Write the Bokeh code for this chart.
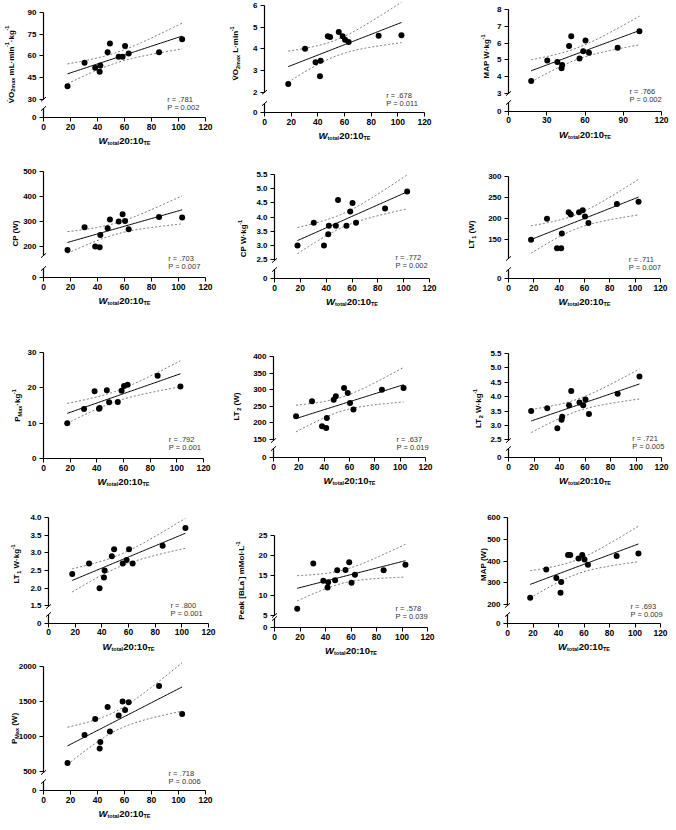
import numpy as np
from math import pi
from bokeh.plotting import figure
from bokeh.models import Label, FixedTicker, Range1d, LinearAxis
from bokeh.layouts import column, row
from bokeh.embed import file_html
from bokeh.resources import INLINE

FONT = "Liberation Sans"

# ---- data: one value per participant, ordered by total work ----
w_total = [17.8, 30.4, 38.3, 41.6, 42.1, 47.5, 49.2, 55.7, 58.6, 60.4, 63.1, 85.6, 102.7]

vo2max_rel = [38.9, 55.2, 51.8, 49.0, 53.4, 62.5, 68.5, 59.3, 59.3, 66.9, 61.6, 62.5, 71.5]
vo2max_abs = [2.38, 4.00, 3.38, 2.74, 3.45, 4.58, 4.55, 4.78, 4.58, 4.42, 4.32, 4.60, 4.63]
map_rel = [3.75, 4.96, 4.87, 4.50, 4.70, 5.82, 6.41, 5.08, 5.52, 6.15, 5.42, 5.72, 6.71]
cp_abs = [185, 276, 199, 196, 245, 272, 307, 299, 328, 301, 268, 317, 315]
cp_rel = [3.0, 3.8, 3.0, 3.4, 3.7, 3.7, 4.6, 3.7, 4.2, 4.5, 3.8, 4.3, 4.9]
lt1_abs = [150, 200, 130, 130, 165, 215, 210, 215, 220, 205, 190, 235, 240]
pmax_rel = [10.0, 14.0, 19.0, 14.1, 14.3, 19.3, 15.9, 16.0, 19.2, 20.5, 20.9, 23.4, 20.4]
lt2_abs = [220, 265, 190, 185, 215, 270, 280, 305, 290, 260, 240, 300, 305]
lt2_rel = [3.5, 3.6, 2.9, 3.2, 3.3, 3.7, 4.2, 3.8, 3.7, 3.9, 3.4, 4.1, 4.7]
lt1_rel = [2.4, 2.7, 2.0, 2.3, 2.5, 2.9, 3.1, 2.7, 2.8, 3.1, 2.7, 3.2, 3.7]
peak_bla = [6.7, 18.0, 13.7, 12.0, 13.3, 13.8, 16.3, 16.4, 18.3, 13.2, 15.2, 16.3, 17.7]
map_abs = [232, 362, 323, 255, 304, 428, 428, 412, 428, 408, 384, 424, 435]
pmax_abs = [620, 1020, 1250, 830, 920, 1420, 1070, 1300, 1500, 1380, 1490, 1720, 1320]

# ---- correlation statistics ----
r_text = [".781", ".678", ".766", ".703", ".772", ".711", ".792", ".637", ".721",
          ".800", ".578", ".693", ".718"]
p_text = ["0.002", "0.011", "0.002", "0.007", "0.002", "0.007", "0.001", "0.019", "0.005",
          "0.001", "0.039", "0.009", "0.006"]

# ---- tick values ----
x_ticks_20 = [0, 20, 40, 60, 80, 100, 120]
x_ticks_30 = [0, 30, 60, 90, 120]
vo2max_rel_ticks = [30, 45, 60, 75, 90]
vo2max_abs_ticks = [2, 3, 4, 5, 6]
map_rel_ticks = [3, 4, 5, 6, 7, 8]
cp_abs_ticks = [200, 300, 400, 500]
cp_rel_ticks = [2.5, 3.0, 3.5, 4.0, 4.5, 5.0, 5.5]
lt1_abs_ticks = [150, 200, 250, 300]
pmax_rel_ticks = [0, 10, 20, 30]
lt2_abs_ticks = [150, 200, 250, 300, 350, 400]
lt2_rel_ticks = [2.5, 3.0, 3.5, 4.0, 4.5, 5.0, 5.5]
lt1_rel_ticks = [1.5, 2.0, 2.5, 3.0, 3.5, 4.0]
peak_bla_ticks = [5, 10, 15, 20, 25]
map_abs_ticks = [200, 300, 400, 500, 600]
pmax_abs_ticks = [500, 1000, 1500, 2000]

# advance widths of Arial/Liberation Sans Bold (per 1000 em)
BOLD_W = {" ": 278, "(": 333, ")": 333, "-": 333, ".": 278, ":": 333, "[": 333, "]": 333,
          "\u00b7": 278, "\u0307": 0,
          "A": 722, "B": 722, "C": 722, "E": 667, "L": 611, "M": 833, "O": 778, "P": 667,
          "T": 611, "V": 667, "W": 944,
          "a": 556, "e": 556, "g": 611, "i": 278, "k": 556, "l": 278, "m": 889, "n": 611,
          "o": 611, "t": 333, "x": 556}


def text_width(s, size):
    return sum(BOLD_W.get(c, 556) for c in s) * size / 1000.0


MAIN, SUB = 8, 5.5


def ylab(*parts):
    out = []
    for kind, txt in parts:
        if kind == "n":
            out.append((txt, MAIN, 0, "bold"))
        elif kind == "sub":
            out.append((txt, SUB, 2.2, "bold"))
        else:
            out.append((txt, SUB, -3.6, "bold"))
    return out


VO = "V\u0307O"
panels = [
    dict(y=vo2max_rel, ticks=vo2max_rel_ticks, fmt="{:.0f}", xt=x_ticks_20, col=0, row=0,
         L=43, R=205, T=12, B=117, low=98.7, seg=98.7, brk=True, tx=10.5, ty=64,
         rxy=(166.7, 99),
         title=ylab(("n", VO), ("sub", "2max"), ("n", " mL\u00b7min"), ("sup", "-1"),
                    ("n", "\u00b7kg"), ("sup", "-1"))),
    dict(y=vo2max_abs, ticks=vo2max_abs_ticks, fmt="{:.0f}", xt=x_ticks_20, col=1, row=0,
         L=264, R=424, T=5, B=112, low=91.7, seg=91.7, brk=True, tx=235.3, ty=53,
         rxy=(385.7, 95),
         title=ylab(("n", VO), ("sub", "2max"), ("n", " L\u00b7min"), ("sup", "-1"))),
    dict(y=map_rel, ticks=map_rel_ticks, fmt="{:.0f}", xt=x_ticks_30, col=2, row=0,
         L=508, R=661, T=9, B=111, low=93, seg=93, brk=True, tx=486.3, ty=56,
         rxy=(629, 90.7),
         title=ylab(("n", "MAP W\u00b7kg"), ("sup", "-1"))),
    dict(y=cp_abs, ticks=cp_abs_ticks, fmt="{:.0f}", xt=x_ticks_20, col=0, row=1,
         L=43, R=205, T=171, B=277, low=245.7, seg=255, brk=True, tx=15.3, ty=233,
         rxy=(167.7, 258.3),
         title=ylab(("n", "CP (W)"))),
    dict(y=cp_rel, ticks=cp_rel_ticks, fmt="{:.1f}", xt=x_ticks_20, col=1, row=1,
         L=274, R=429, T=174, B=278, low=259.3, seg=260, brk=True, tx=243, ty=238,
         rxy=(395, 256.7),
         title=ylab(("n", "CP W\u00b7kg"), ("sup", "-1"))),
    dict(y=lt1_abs, ticks=lt1_abs_ticks, fmt="{:.0f}", xt=x_ticks_20, col=2, row=1,
         L=508, R=660, T=176, B=278, low=239.3, seg=258, brk=True, tx=471.3, ty=234,
         rxy=(628.3, 259),
         title=ylab(("n", "LT"), ("sub", "1"), ("n", " (W)"))),
    dict(y=pmax_rel, ticks=pmax_rel_ticks, fmt="{:.0f}", xt=x_ticks_20, col=0, row=2,
         L=43, R=203, T=352, B=458, low=None, seg=None, brk=False, tx=17, ty=405,
         rxy=(168.3, 439),
         title=ylab(("n", "P"), ("sub", "Max"), ("n", "\u00b7kg"), ("sup", "-1"))),
    dict(y=lt2_abs, ticks=lt2_abs_ticks, fmt="{:.0f}", xt=x_ticks_20, col=1, row=2,
         L=273, R=425, T=356, B=457, low=439, seg=440, brk=True, tx=236.3, ty=406,
         rxy=(396, 439),
         title=ylab(("n", "LT"), ("sub", "2"), ("n", " (W)"))),
    dict(y=lt2_rel, ticks=lt2_rel_ticks, fmt="{:.1f}", xt=x_ticks_20, col=2, row=2,
         L=508, R=661, T=353, B=457, low=439.3, seg=440, brk=True, tx=478, ty=408,
         rxy=(631.7, 438.3),
         title=ylab(("n", "LT"), ("sub", "2"), ("n", " W\u00b7kg"), ("sup", "-1"))),
    dict(y=lt1_rel, ticks=lt1_rel_ticks, fmt="{:.1f}", xt=x_ticks_20, col=0, row=3,
         L=48, R=208, T=517, B=623, low=605.3, seg=606, brk=True, tx=16.3, ty=563.5,
         rxy=(170, 605.3),
         title=ylab(("n", "LT"), ("sub", "1"), ("n", " W\u00b7kg"), ("sup", "-1"))),
    dict(y=peak_bla, ticks=peak_bla_ticks, fmt="{:.0f}", xt=x_ticks_20, col=1, row=3,
         L=274, R=427, T=535, B=627, low=615, seg=615, brk=True, tx=241.3, ty=580,
         rxy=(395, 608),
         title=ylab(("n", "Peak [BLa"), ("sup", "-"), ("n", "] mMol\u00b7L"), ("sup", "-1"))),
    dict(y=map_abs, ticks=map_abs_ticks, fmt="{:.0f}", xt=x_ticks_20, col=2, row=3,
         L=507, R=660, T=517, B=623, low=604.3, seg=605, brk=True, tx=482.5, ty=564,
         rxy=(630, 605.7),
         title=ylab(("n", "MAP (W)"))),
    dict(y=pmax_abs, ticks=pmax_abs_ticks, fmt="{:.0f}", xt=x_ticks_20, col=0, row=4,
         L=43, R=205, T=666, B=790, low=771, seg=772, brk=True, tx=14, ty=728,
         rxy=(168, 773),
         title=ylab(("n", "P"), ("sub", "Max"), ("n", " (W)"))),
]

COLS = [(0, 225), (225, 450), (450, 676)]
ROWS = [(0, 150), (150, 310), (310, 495), (495, 655), (655, 830)]
T_CRIT = 2.201  # two-sided 95 %, 11 degrees of freedom


def regression_bands(x, y, n_pts=80):
    x = np.asarray(x, float)
    y = np.asarray(y, float)
    n = len(x)
    slope, icpt = np.polyfit(x, y, 1)
    xs = np.linspace(x.min(), x.max(), n_pts)
    fit = icpt + slope * xs
    resid = y - (icpt + slope * x)
    s = np.sqrt((resid ** 2).sum() / (n - 2))
    sxx = ((x - x.mean()) ** 2).sum()
    se = s * np.sqrt(1.0 / n + (xs - x.mean()) ** 2 / sxx)
    return xs, fit, fit - T_CRIT * se, fit + T_CRIT * se


def style_axis(ax, size):
    ax.axis_line_width = 1.2
    ax.axis_line_color = "black"
    ax.major_tick_out = 4
    ax.major_tick_in = 0
    ax.major_tick_line_width = 1
    ax.minor_tick_line_color = None
    ax.major_label_text_font = FONT
    ax.major_label_text_font_style = "bold"
    ax.major_label_text_font_size = size
    ax.major_label_text_color = "black"


def rich_text(p, parts, x0, y0, tx, ty, rotated):
    """Lay out styled text runs one after another, starting at page point (x0, y0)."""
    pos = 0.0
    for t, s, sh, st in parts:
        lead = len(t) - len(t.lstrip(" "))
        pos += text_width(t[:lead], s)      # leading blanks become an explicit advance
        t = t.lstrip(" ")
        if rotated:
            X, Y, ang = x0 + sh, y0 - pos, pi / 2
        else:
            X, Y, ang = x0 + pos, y0 + sh, 0
        p.add_layout(Label(x=tx(X), y=ty(Y), text=t, angle=ang, text_align="left",
                           text_baseline="alphabetic", text_font=FONT,
                           text_font_size=f"{s}px", text_font_style=st, text_color="black"))
        pos += text_width(t, s)


def make_panel(i, sp):
    cx0, cx1 = COLS[sp["col"]]
    ry0, ry1 = ROWS[sp["row"]]
    L, R, T, B = sp["L"], sp["R"], sp["T"], sp["B"]
    ticks = sp["ticks"]
    hi = ticks[-1]
    if sp["brk"]:
        ys = (sp["low"] - T) / (hi - ticks[0])
        v0 = round(hi - (B - T) / ys, 4)
    else:
        v0 = 0.0
        ys = (B - T) / hi
    xs = (R - L) / 120.0

    def tx(px):
        return (px - L) / xs

    def ty(py):
        return hi - (py - T) / ys

    # the frame spans the whole cell; axes are pinned at x = 0 and y = v0
    p = figure(width=cx1 - cx0, height=ry1 - ry0,
               x_range=Range1d(tx(cx0), tx(cx1)), y_range=Range1d(ty(ry1), ty(ry0)),
               min_border=0, x_axis_location=None, y_axis_location=None,
               output_backend="svg", toolbar_location=None)
    p.outline_line_color = None
    p.grid.visible = False
    p.background_fill_color = "white"
    p.border_fill_color = "white"

    xa = LinearAxis(fixed_location=v0, bounds=(0, 120), ticker=FixedTicker(ticks=sp["xt"]))
    style_axis(xa, "8.5px")
    xa.major_label_standoff = 2
    p.add_layout(xa, "below")

    labels = {t: sp["fmt"].format(t) for t in ticks}
    if sp["brk"]:
        seg_lo = min(ty(sp["seg"]), ticks[0])
        ya = LinearAxis(fixed_location=0, bounds=(seg_lo, hi), ticker=FixedTicker(ticks=ticks),
                        major_label_overrides=labels)
        low_top = ty(B - 9)
        yb = LinearAxis(fixed_location=0, bounds=(v0, low_top), ticker=FixedTicker(ticks=[v0]),
                        major_label_overrides={v0: "0"})
        axes = [ya, yb]
        # break marks at both ends of the gap
        bx0, bx1, by0, by1 = [], [], [], []
        for py in (sp["seg"], B - 9):
            bx0.append(tx(L - 2.5)); by0.append(ty(py + 2.2))
            bx1.append(tx(L + 2.5)); by1.append(ty(py - 2.2))
        p.segment(bx0, by0, bx1, by1, line_color="black", line_width=1)
    else:
        ya = LinearAxis(fixed_location=0, bounds=(0, hi), ticker=FixedTicker(ticks=ticks),
                        major_label_overrides=labels)
        axes = [ya]
    for ax in axes:
        style_axis(ax, "8px")
        ax.major_label_standoff = 3
        p.add_layout(ax, "left")

    # regression line and 95 % confidence bands
    xs_fit, fit, lo, up = regression_bands(w_total, sp["y"])
    p.line(xs_fit, fit, line_color="black", line_width=1)
    p.line(xs_fit, lo, line_color="#555555", line_width=0.8, line_dash="2 2")
    p.line(xs_fit, up, line_color="#555555", line_width=0.8, line_dash="2 2")
    p.scatter(w_total, sp["y"], size=6, fill_color="black", line_color=None)

    # statistics
    rx, ry = sp["rxy"]
    for txt, py in ((f"r = {r_text[i]}", ry), (f"P = {p_text[i]}", ry + 8)):
        p.add_layout(Label(x=tx(rx), y=ty(py), text=txt, text_align="left",
                           text_baseline="middle", text_font=FONT, text_font_size="7.5px",
                           text_color="#333333"))

    # x-axis title: W_total 20:10_TE
    xparts = [("W", 9.5, 0, "bold italic"), ("total", 5.5, 2.6, "bold"),
              ("20:10", 9.5, 0, "bold"), ("TE", 5.5, 2.6, "bold")]
    total = sum(text_width(t, s) for t, s, _, _ in xparts)
    rich_text(p, xparts, (L + R) / 2.0 - total / 2.0, B + 23, tx, ty, rotated=False)

    # rotated y-axis title
    parts = sp["title"]
    total = sum(text_width(t, s) for t, s, _, _ in parts)
    rich_text(p, parts, sp["tx"], sp["ty"] + total / 2.0, tx, ty, rotated=True)
    return p


figs = [make_panel(i, sp) for i, sp in enumerate(panels)]
layout = column(
    row(figs[0], figs[1], figs[2]),
    row(figs[3], figs[4], figs[5]),
    row(figs[6], figs[7], figs[8]),
    row(figs[9], figs[10], figs[11]),
    row(figs[12]),
)

open("out.html", "w").write(file_html(layout, INLINE))
